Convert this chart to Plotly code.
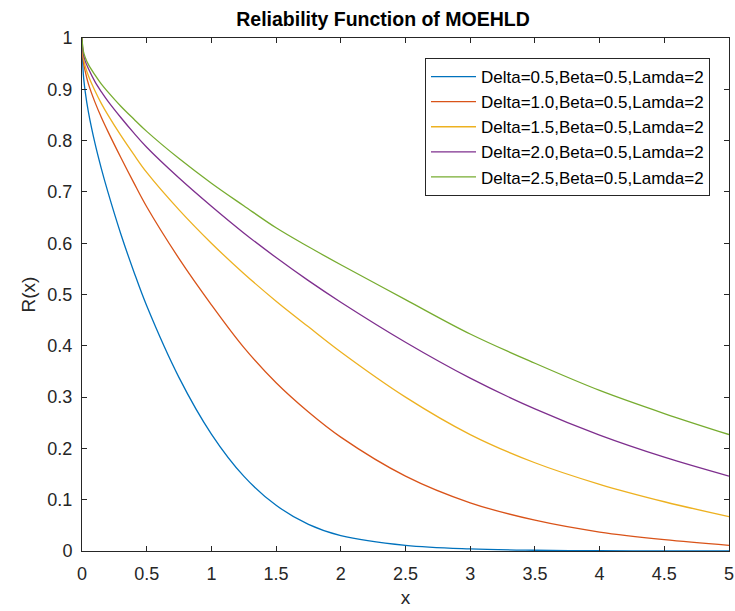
import plotly.graph_objects as go

# x sample positions
x_vals = [0, 0.01, 0.025, 0.05, 0.1, 0.15, 0.2, 0.3, 0.4, 0.5, 0.75, 1.0, 1.25, 1.5, 1.75,
          2.0, 2.5, 3.0, 3.5, 4.0, 4.5, 5.0]

r_delta_05 = [1.0, 0.93, 0.895, 0.855, 0.795, 0.745, 0.70, 0.618, 0.545, 0.478, 0.338, 0.228,
              0.146, 0.089, 0.052, 0.030, 0.011, 0.004, 0.0015, 0.0006, 0.0003, 0.0001]
r_delta_10 = [1.0, 0.955, 0.935, 0.91, 0.875, 0.845, 0.818, 0.767, 0.718, 0.671, 0.57, 0.48,
              0.397, 0.328, 0.271, 0.222, 0.146, 0.094, 0.06, 0.037, 0.022, 0.011]
r_delta_15 = [1.0, 0.962, 0.945, 0.926, 0.897, 0.872, 0.85, 0.81, 0.773, 0.738, 0.665, 0.60,
              0.541, 0.487, 0.437, 0.388, 0.30, 0.227, 0.172, 0.13, 0.096, 0.067]
r_delta_20 = [1.0, 0.97, 0.955, 0.94, 0.915, 0.895, 0.877, 0.845, 0.815, 0.787, 0.727, 0.672,
              0.62, 0.572, 0.527, 0.485, 0.407, 0.337, 0.277, 0.226, 0.183, 0.146]
r_delta_25 = [1.0, 0.975, 0.962, 0.948, 0.928, 0.91, 0.895, 0.867, 0.842, 0.818, 0.765, 0.717,
              0.673, 0.63, 0.593, 0.558, 0.49, 0.423, 0.366, 0.313, 0.268, 0.227]

series_names = [
    "Delta=0.5,Beta=0.5,Lamda=2",
    "Delta=1.0,Beta=0.5,Lamda=2",
    "Delta=1.5,Beta=0.5,Lamda=2",
    "Delta=2.0,Beta=0.5,Lamda=2",
    "Delta=2.5,Beta=0.5,Lamda=2",
]
series_values = [r_delta_05, r_delta_10, r_delta_15, r_delta_20, r_delta_25]
colors = ["#0072BD", "#D95319", "#EDB120", "#7E2F8E", "#77AC30"]

x_ticks = [0, 0.5, 1, 1.5, 2, 2.5, 3, 3.5, 4, 4.5, 5]
x_tick_labels = ["0", "0.5", "1", "1.5", "2", "2.5", "3", "3.5", "4", "4.5", "5"]
y_ticks = [0, 0.1, 0.2, 0.3, 0.4, 0.5, 0.6, 0.7, 0.8, 0.9, 1]
y_tick_labels = ["0", "0.1", "0.2", "0.3", "0.4", "0.5", "0.6", "0.7", "0.8", "0.9", "1"]

FONT = "Liberation Sans, Arial, Helvetica, sans-serif"
AX = "#262626"

W, H = 735, 611
ML, MR, MT, MB = 82, 6, 38, 60
PW, PH = W - ML - MR, H - MT - MB

fig = go.Figure()
for name, vals, col in zip(series_names, series_values, colors):
    fig.add_trace(go.Scatter(x=x_vals, y=vals, mode="lines", name=name,
                             line=dict(color=col, width=1.3, shape="spline", smoothing=1.0)))

fig.update_layout(
    width=W, height=H,
    margin=dict(l=ML, r=MR, t=MT, b=MB, autoexpand=False),
    paper_bgcolor="white", plot_bgcolor="white",
    font=dict(family=FONT, size=18, color=AX),
    title=dict(text="<b>Reliability Function of MOEHLD</b>", x=(383 - ML) / PW, xref="paper",
               xanchor="center", y=1 - 19 / H, yanchor="middle", automargin=False,
               font=dict(family=FONT, size=19.5, color="#000000")),
    showlegend=True,
    legend=dict(x=(710 - ML) / PW, xanchor="right", y=(H - MB - 58) / PH, yanchor="top",
                bgcolor="white", bordercolor=AX, borderwidth=1,
                font=dict(family=FONT, size=17, color="#000000"),
                tracegroupgap=0, itemwidth=45),
    annotations=[dict(text="R(x)", textangle=-90, xref="paper", yref="paper",
                      x=(28 - ML) / PW, y=0.5, xanchor="center", yanchor="middle",
                      showarrow=False, font=dict(family=FONT, size=19, color=AX))],
)
fig.update_xaxes(range=[0, 5], tickvals=x_ticks, ticktext=x_tick_labels,
                 ticks="inside", ticklen=5, tickcolor=AX, tickwidth=1,
                 showline=True, linecolor=AX, linewidth=1, mirror="ticks",
                 showgrid=False, zeroline=False, automargin=False,
                 ticklabeloverflow="allow", ticklabelstandoff=6,
                 tickfont=dict(size=18, color=AX),
                 title=dict(text="x", font=dict(size=19, color=AX), standoff=8))
fig.update_yaxes(range=[0, 1], tickvals=y_ticks, ticktext=y_tick_labels,
                 ticks="inside", ticklen=5, tickcolor=AX, tickwidth=1,
                 showline=True, linecolor=AX, linewidth=1, mirror="ticks",
                 showgrid=False, zeroline=False, automargin=False,
                 ticklabelstandoff=5,
                 tickfont=dict(size=18, color=AX))

# remove the default 8px page margin so the figure fills the window exactly
fig.write_html("out.html", config={"displayModeBar": False},
               post_script="document.body.style.margin='0';document.body.style.overflow='hidden';")
